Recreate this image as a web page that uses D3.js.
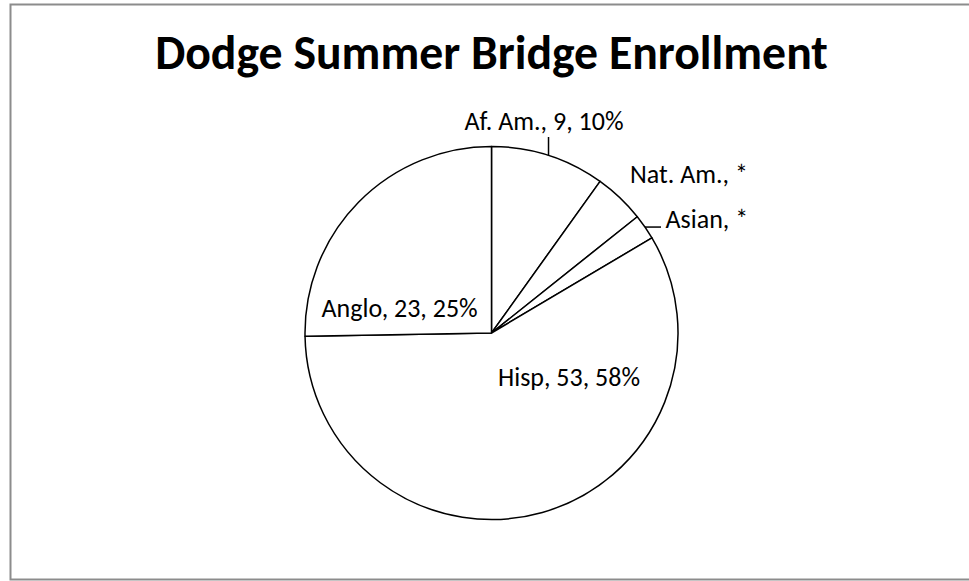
<!DOCTYPE html>
<html>
<head>
<meta charset="utf-8">
<script src="https://cdn.jsdelivr.net/npm/d3@7"></script>
<style>
  body { margin: 0; background: #fff; }
  svg { display: block; }
  text { font-family: Carlito, Lato, "Open Sans", sans-serif; fill: #000; }
</style>
</head>
<body>
<div id="viewport"></div>
<script>
// data (Nat. Am. and Asian are shown as "*")
var categories = ["Af. Am.", "Nat. Am.", "Asian", "Hisp", "Anglo"];
var counts = [9, 4, 2, 53, 23];
var labelTexts = ["Af. Am., 9, 10%", "Nat. Am., *", "Asian, *", "Hisp, 53, 58%", "Anglo, 23, 25%"];
var title = "Dodge Summer Bridge Enrollment";

var width = 969, height = 581;
var cx = 491.5, cy = 333, radius = 186.5;

// where each label sits relative to the pie centre, and its anchor
var labelLayout = {
  "Af. Am.": { dx: 52.5, dy: -203, anchor: "middle", leader: "up", leaderTo: -196 },
  "Nat. Am.": { dx: 138.5, dy: -150, anchor: "start" },
  "Asian": { dx: 174, dy: -105, anchor: "start", leader: "right", leaderTo: 169.5 },
  "Hisp": { dx: 6.5, dy: 53, anchor: "start" },
  "Anglo": { dx: -170, dy: -16, anchor: "start" }
};

var svg = d3.select("#viewport")
  .append("svg")
  .attr("width", width)
  .attr("height", height);

// chart frame (right side runs off the picture)
svg.append("rect")
  .attr("x", 10.5)
  .attr("y", 4.5)
  .attr("width", width + 20)
  .attr("height", 575)
  .attr("fill", "#fff")
  .attr("stroke", "#8c8c8c")
  .attr("stroke-width", 2);

var titleText = svg.append("text")
  .attr("x", cx)
  .attr("y", 69)
  .attr("text-anchor", "middle")
  .attr("font-size", 42)
  .attr("font-weight", "bold")
  .style("font-family", "Carlito, 'Open Sans', Lato, sans-serif")
  .text(title);

// title should span roughly 155..828 px
var tw = titleText.node().getComputedTextLength();
if (tw > 0) titleText.attr("font-size", 42 * 673 / tw);

var data = categories.map(function (c, i) {
  return { name: c, value: counts[i], label: labelTexts[i] };
});

var pie = d3.pie().sort(null).value(function (d) { return d.value; });
var arc = d3.arc().innerRadius(0).outerRadius(radius);
var arcs = pie(data);

var g = svg.append("g").attr("transform", "translate(" + cx + "," + cy + ")");

g.selectAll("path")
  .data(arcs)
  .join("path")
  .attr("d", arc)
  .attr("fill", "#fff")
  .attr("stroke", "#000")
  .attr("stroke-width", 1.5)
  .attr("stroke-linejoin", "round");

// leader lines start on the rim at the middle of the slice
arcs.forEach(function (a) {
  var lay = labelLayout[a.data.name];
  if (!lay.leader) return;
  var mid = (a.startAngle + a.endAngle) / 2;
  var px = radius * Math.sin(mid);
  var py = -radius * Math.cos(mid);
  var x2 = lay.leader == "up" ? px : lay.leaderTo;
  var y2 = lay.leader == "up" ? lay.leaderTo : py;
  g.append("line")
    .attr("x1", px).attr("y1", py)
    .attr("x2", x2).attr("y2", y2)
    .attr("stroke", "#000")
    .attr("stroke-width", 1.5);
});

g.selectAll("text.lbl")
  .data(arcs)
  .join("text")
  .attr("class", "lbl")
  .attr("x", function (d) { return labelLayout[d.data.name].dx; })
  .attr("y", function (d) { return labelLayout[d.data.name].dy; })
  .attr("text-anchor", function (d) { return labelLayout[d.data.name].anchor; })
  .attr("font-size", 26)
  .text(function (d) { return d.data.label; });
</script>
</body>
</html>
